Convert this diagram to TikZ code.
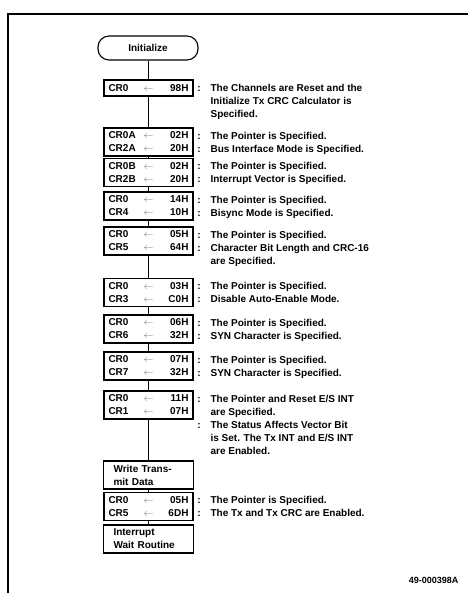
\documentclass[tikz,border=0pt]{standalone}
\usepackage{fontspec}
\setmainfont{Liberation Sans}
\usetikzlibrary{calc}

\newcommand{\regrow}[2]{\makebox[27pt][l]{#1}\makebox[26pt][c]{\textcolor{black!55}{$\leftarrow$}}\makebox[27pt][r]{#2}}

\begin{document}
\begin{tikzpicture}[x=1pt, y=-1pt,
        reg/.style={rectangle, draw, line width=1.1pt, align=left, inner sep=0pt, minimum width=89pt, minimum height=28pt, font=\fontsize{10}{13}\selectfont\bfseries},
        txtbox/.style={reg, text width=70pt, inner xsep=10pt},
        term/.style={rectangle, draw, line width=1.1pt, rounded corners=11pt, minimum width=100pt, minimum height=24pt, font=\fontsize{10}{13}\selectfont\bfseries},
        note/.style={anchor=base west, inner sep=0pt, font=\fontsize{10}{13}\selectfont\bfseries}]
        \useasboundingbox (0,0) rectangle (468,593);
        \draw[line width=1.4pt] (8,593) -- (8,14) -- (468,14);
        \node[term] (init) at (148,48) {Initialize};
        \node[reg, minimum height=16pt] (b1) at (148.5,88) {\regrow{CR0}{98H}};
        \node[reg] (b2) at (148.5,142) {\regrow{CR0A}{02H}\\\regrow{CR2A}{20H}};
        \node[reg] (b3) at (148.5,172.5) {\regrow{CR0B}{02H}\\\regrow{CR2B}{20H}};
        \node[reg] (b4) at (148.5,206) {\regrow{CR0}{14H}\\\regrow{CR4}{10H}};
        \node[reg] (b5) at (148.5,241) {\regrow{CR0}{05H}\\\regrow{CR5}{64H}};
        \node[reg] (b6) at (148.5,292.5) {\regrow{CR0}{03H}\\\regrow{CR3}{C0H}};
        \node[reg] (b7) at (148.5,329) {\regrow{CR0}{06H}\\\regrow{CR6}{32H}};
        \node[reg] (b8) at (148.5,366) {\regrow{CR0}{07H}\\\regrow{CR7}{32H}};
        \node[reg] (b9) at (148.5,405) {\regrow{CR0}{11H}\\\regrow{CR1}{07H}};
        \node[txtbox] (b10) at (148.5,475) {Write Trans-\\mit Data};
        \node[reg] (b11) at (148.5,506.5) {\regrow{CR0}{05H}\\\regrow{CR5}{6DH}};
        \node[txtbox] (b12) at (148.5,539) {Interrupt\\Wait Routine};
        \foreach \a/\b in {init/b1, b1/b2, b2/b3, b3/b4, b4/b5, b5/b6, b6/b7, b7/b8, b8/b9, b9/b10, b10/b11, b11/b12}
            \draw[line width=1pt] (148,0 |- \a.south) -- (148,0 |- \b.north);
        \node[note] (n1) at ($(b1.east)+(3.5,3.6)$) {\begin{tabular}[t]{@{}l@{\hspace{10pt}}l@{}}:&The Channels are Reset and the\\&Initialize Tx CRC Calculator is\\&Specified.\end{tabular}};
        \node[note] (n2) at ($(b2.east)+(3.5,-2.9)$) {\begin{tabular}[t]{@{}l@{\hspace{10pt}}l@{}}:&The Pointer is Specified.\\:&Bus Interface Mode is Specified.\end{tabular}};
        \node[note] (n3) at ($(b3.east)+(3.5,-2.9)$) {\begin{tabular}[t]{@{}l@{\hspace{10pt}}l@{}}:&The Pointer is Specified.\\:&Interrupt Vector is Specified.\end{tabular}};
        \node[note] (n4) at ($(b4.east)+(3.5,-2.9)$) {\begin{tabular}[t]{@{}l@{\hspace{10pt}}l@{}}:&The Pointer is Specified.\\:&Bisync Mode is Specified.\end{tabular}};
        \node[note] (n5) at ($(b5.east)+(3.5,-2.9)$) {\begin{tabular}[t]{@{}l@{\hspace{10pt}}l@{}}:&The Pointer is Specified.\\:&Character Bit Length and CRC-16\\&are Specified.\end{tabular}};
        \node[note] (n6) at ($(b6.east)+(3.5,-2.9)$) {\begin{tabular}[t]{@{}l@{\hspace{10pt}}l@{}}:&The Pointer is Specified.\\:&Disable Auto-Enable Mode.\end{tabular}};
        \node[note] (n7) at ($(b7.east)+(3.5,-2.9)$) {\begin{tabular}[t]{@{}l@{\hspace{10pt}}l@{}}:&The Pointer is Specified.\\:&SYN Character is Specified.\end{tabular}};
        \node[note] (n8) at ($(b8.east)+(3.5,-2.9)$) {\begin{tabular}[t]{@{}l@{\hspace{10pt}}l@{}}:&The Pointer is Specified.\\:&SYN Character is Specified.\end{tabular}};
        \node[note] (n9) at ($(b9.east)+(3.5,-2.9)$) {\begin{tabular}[t]{@{}l@{\hspace{10pt}}l@{}}:&The Pointer and Reset E/S INT\\&are Specified.\\:&The Status Affects Vector Bit\\&is Set. The Tx INT and E/S INT\\&are Enabled.\end{tabular}};
        \node[note] (n11) at ($(b11.east)+(3.5,-2.9)$) {\begin{tabular}[t]{@{}l@{\hspace{10pt}}l@{}}:&The Pointer is Specified.\\:&The Tx and Tx CRC are Enabled.\end{tabular}};
        \node[anchor=east, font=\fontsize{9}{10}\selectfont\bfseries] (fig) at (462,580) {49-000398A};
    \end{tikzpicture}
\end{document}
